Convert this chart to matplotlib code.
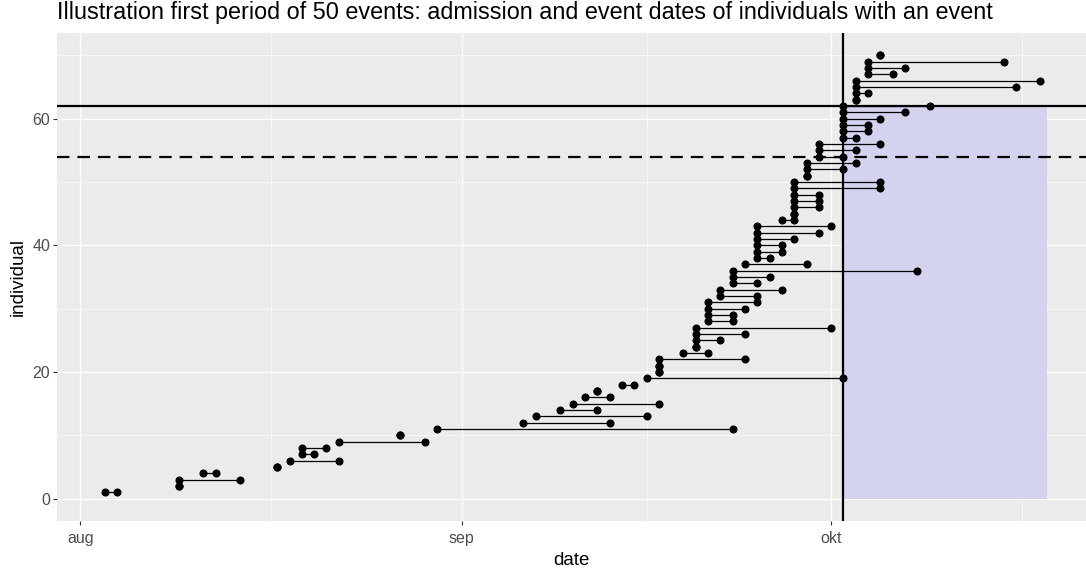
import matplotlib
matplotlib.use("Agg")
import matplotlib.pyplot as plt
import matplotlib.dates as mdates
import datetime as dt

plt.rcParams['font.family'] = ['Liberation Sans', 'DejaVu Sans']

year = 2021
individual = list(range(1, 71))
admission = ["08-03", "08-09", "08-09", "08-11", "08-17", "08-18", "08-19", "08-19", "08-22", "08-27",
             "08-30", "09-06", "09-07", "09-09", "09-10", "09-11", "09-12", "09-14", "09-16", "09-17",
             "09-17", "09-17", "09-19", "09-20", "09-20", "09-20", "09-20", "09-21", "09-21", "09-21",
             "09-21", "09-22", "09-22", "09-23", "09-23", "09-23", "09-24", "09-25", "09-25", "09-25",
             "09-25", "09-25", "09-25", "09-27", "09-28", "09-28", "09-28", "09-28", "09-28", "09-28",
             "09-29", "09-29", "09-29", "09-30", "09-30", "09-30", "10-02", "10-02", "10-02", "10-02",
             "10-02", "10-02", "10-03", "10-03", "10-03", "10-03", "10-04", "10-04", "10-04", "10-05"]
event = ["08-04", "08-09", "08-14", "08-12", "08-17", "08-22", "08-20", "08-21", "08-29", "08-27",
         "09-23", "09-13", "09-16", "09-12", "09-17", "09-13", "09-12", "09-15", "10-02", "09-17",
         "09-17", "09-24", "09-21", "09-20", "09-22", "09-24", "10-01", "09-23", "09-23", "09-24",
         "09-25", "09-25", "09-27", "09-25", "09-26", "10-08", "09-29", "09-26", "09-27", "09-27",
         "09-28", "09-30", "10-01", "09-28", "09-28", "09-30", "09-30", "09-30", "10-05", "10-05",
         "09-29", "10-02", "10-03", "10-02", "10-03", "10-05", "10-03", "10-04", "10-04", "10-05",
         "10-07", "10-09", "10-03", "10-04", "10-16", "10-18", "10-06", "10-07", "10-15", "10-05"]

tick_dates = ["08-01", "09-01", "10-01"]
tick_labels = ["aug", "sep", "okt"]
cutoff_date = "10-02"
shade_end = "10-18 12"
n_events_line = 62
previous_line = 54
y_ticks = [0, 20, 40, 60]

title = "Illustration first period of 50 events: admission and event dates of individuals with an event"


def d(s):
    parts = s.split()
    m, day = parts[0].split("-")
    h = int(parts[1]) if len(parts) > 1 else 0
    return dt.datetime(year, int(m), int(day), h)


adm = [mdates.date2num(d(s)) for s in admission]
evt = [mdates.date2num(d(s)) for s in event]
ticks = [mdates.date2num(d(s)) for s in tick_dates]
cut = mdates.date2num(d(cutoff_date))
shade_r = mdates.date2num(d(shade_end))

fig = plt.figure(figsize=(10.86, 5.71), dpi=100)
ax = fig.add_axes([57.5 / 1086, 1 - 521 / 571, 1 - 57.5 / 1086, (521 - 33) / 571])
ax.set_facecolor("#EBEBEB")

ax.set_xlim(min(adm) - 3.85, shade_r + 3.2)
ax.set_ylim(-3.5, 73.5)

# grid
minor_x = [(ticks[i] + ticks[i + 1]) / 2 for i in range(len(ticks) - 1)]
minor_x.append(ticks[-1] + 15.5)
for mx in minor_x:
    ax.axvline(mx, color="white", lw=0.5, zorder=0)
for tx in ticks:
    ax.axvline(tx, color="white", lw=1.0, zorder=0)
for yv in [10, 30, 50, 70]:
    ax.axhline(yv, color="white", lw=0.5, zorder=0)
for yv in y_ticks:
    ax.axhline(yv, color="white", lw=1.0, zorder=0)

# shaded region
ax.fill_between([cut, shade_r], 0, n_events_line, color="#D3D3EF", zorder=1, lw=0)

# segments and points
for i, a, e in zip(individual, adm, evt):
    ax.plot([a, e], [i, i], color="black", lw=0.9, zorder=3, solid_capstyle="butt")
ax.plot(adm, individual, "o", color="black", ms=4.8, zorder=4)
ax.plot(evt, individual, "o", color="black", ms=4.8, zorder=4)

ax.axvline(cut, color="black", lw=1.6, zorder=5)
ax.axhline(n_events_line, color="black", lw=1.6, zorder=5)
ax.axhline(previous_line, color="black", lw=1.6, ls=(0, (5.6, 3.6)), zorder=5)

ax.set_xticks(ticks)
ax.set_xticklabels(tick_labels)
ax.set_yticks(y_ticks)
ax.tick_params(axis="both", colors="#333333", length=2.7, width=0.8, labelsize=11.5,
               labelcolor="#4D4D4D", pad=2.5)
ax.tick_params(axis="x", pad=4.5)
for sp in ax.spines.values():
    sp.set_visible(False)

ax.set_xlabel("date", fontsize=13.5, color="black", labelpad=4.5)
ax.set_ylabel("individual", fontsize=13.5, color="black", labelpad=4)
fig.text(57.5 / 1086, 1 - 12.5 / 571, title, fontsize=16.8, ha="left", va="center", color="black")

fig.savefig("out.png", dpi=100)
